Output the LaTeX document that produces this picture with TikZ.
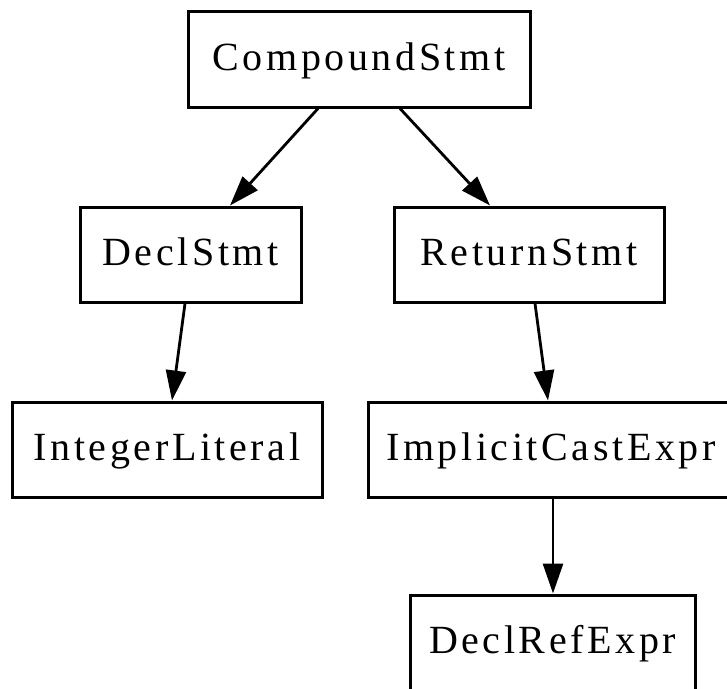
\documentclass[tikz,border=0pt]{standalone}
\usepackage{fontspec}
\setmainfont{Liberation Serif}[LetterSpace=9]
\usetikzlibrary{arrows.meta}
\tikzset{
  astbox/.style={draw, line width=3pt, inner sep=0pt, font=\fontsize{40pt}{44pt}\selectfont,
    text height=30pt, text depth=8pt, align=center},
  edge/.style={line width=2.8pt, -{Triangle[length=30pt,width=20pt]}}
}
\begin{document}
\begin{tikzpicture}[x=1pt,y=-1pt]
\useasboundingbox (0,0) rectangle (727,688);
\node[astbox, minimum width=342pt, minimum height=96pt] (cs) at (359,59) {CompoundStmt};
\node[astbox, minimum width=221pt, minimum height=95pt] (ds) at (190.5,254.5) {DeclStmt};
\node[astbox, minimum width=270pt, minimum height=95pt] (rs) at (529,254.5) {ReturnStmt};
\node[astbox, minimum width=310pt, minimum height=95pt] (il) at (167,449.5) {IntegerLiteral};
\node[astbox, minimum width=366pt, minimum height=95pt] (ice) at (551,449.5) {ImplicitCastExpr};
\node[astbox, minimum width=285pt, minimum height=95pt] (dre) at (552.5,642.5) {DeclRefExpr};
\draw[edge] ([xshift=-41pt]cs.south) -- ([xshift=39.5pt]ds.north);
\draw[edge] ([xshift=41pt]cs.south) -- ([xshift=-39pt]rs.north);
\draw[edge] ([xshift=-5.5pt]ds.south) -- ([xshift=5pt]il.north);
\draw[edge] ([xshift=6pt]rs.south) -- ([xshift=-3pt]ice.north);
\draw[edge] ([xshift=2pt]ice.south) -- ([xshift=0.5pt]dre.north);
\end{tikzpicture}
\end{document}
